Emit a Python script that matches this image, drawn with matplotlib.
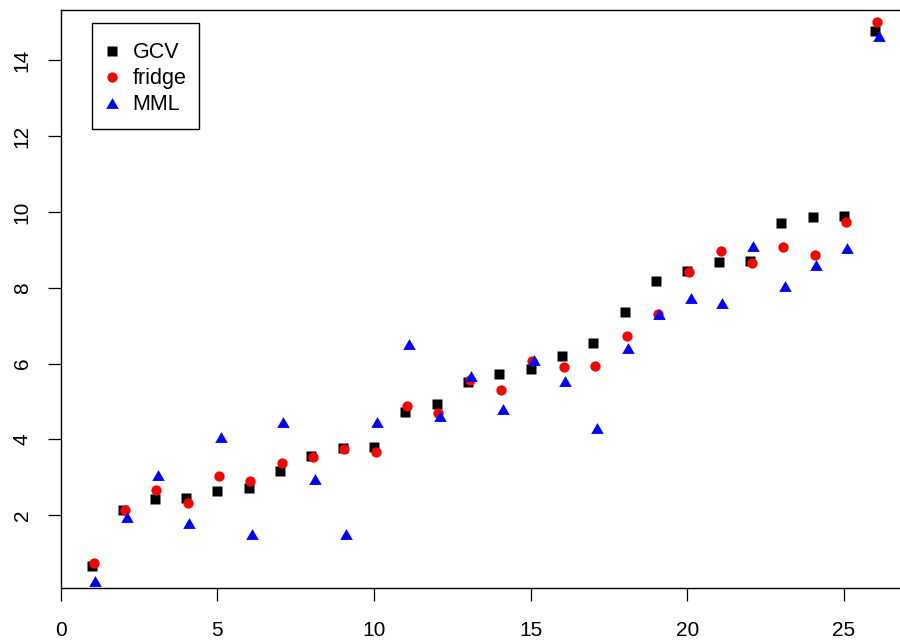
import matplotlib
matplotlib.use("Agg")
import matplotlib.pyplot as plt
import numpy as np
from matplotlib.path import Path
from matplotlib.patches import Rectangle
from matplotlib.transforms import Affine2D

plt.rcParams['font.family'] = ['Liberation Sans', 'DejaVu Sans']

index = list(range(1, 27))
gcv = [0.66, 2.14, 2.43, 2.45, 2.63, 2.71, 3.17, 3.55, 3.77, 3.81, 4.72, 4.93, 5.51,
       5.72, 5.85, 6.19, 6.54, 7.35, 8.18, 8.44, 8.67, 8.70, 9.70, 9.86, 9.89, 14.78]
fridge = [0.75, 2.14, 2.66, 2.32, 3.03, 2.91, 3.38, 3.54, 3.75, 3.67, 4.88, 4.70, 5.57,
          5.30, 6.08, 5.91, 5.94, 6.73, 7.31, 8.42, 8.97, 8.65, 9.08, 8.87, 9.74, 15.01]
mml = [0.27, 1.96, 3.06, 1.80, 4.07, 1.50, 4.45, 2.95, 1.50, 4.47, 6.51, 4.62, 5.68,
       4.80, 6.10, 5.55, 4.29, 6.42, 7.30, 7.74, 7.59, 9.11, 8.05, 8.59, 9.06, 14.64]
series_names = ["GCV", "fridge", "MML"]
xticks = [0, 5, 10, 15, 20, 25]
yticks = [2, 4, 6, 8, 10, 12, 14]

W, H = 900, 644
fig = plt.figure(figsize=(W / 100, H / 100), dpi=100)
left_px, bottom_px, top_px = 60.5, 588, 10
ax_w_px = 27.1 * 31.34
ax = fig.add_axes([left_px / W, (H - bottom_px) / H, ax_w_px / W, (bottom_px - top_px) / H])

# R-style equilateral triangle (pch 17), bbox-centred
tri = Path([(0, 0.75), (-0.866, -0.75), (0.866, -0.75), (0, 0.75)],
           [Path.MOVETO, Path.LINETO, Path.LINETO, Path.CLOSEPOLY])

styles = [
    dict(marker='s', ms=7.8, mfc='black', mec='none'),
    dict(marker='o', ms=7.4, mfc='red', mec='none'),
    dict(marker=tri, ms=9.0, mfc='blue', mec='none'),
]

x = np.array(index, dtype=float)
ax.plot(x, gcv, ls='none', **styles[0])
ax.plot(x + 0.06, fridge, ls='none', **styles[1])
ax.plot(x + 0.11, mml, ls='none', **styles[2])

ax.set_xlim(0, 27.1)
ax.set_ylim(0.08, 15.33)
ax.set_xticks(xticks)
ax.set_xticklabels([str(t) for t in xticks])
ax.set_yticks(yticks)
ax.set_yticklabels([str(t) for t in yticks], rotation=90, va='center')

ax.tick_params(axis='both', direction='out', length=9.7, width=0.9, labelsize=15, color='black')
ax.tick_params(axis='x', pad=14)
ax.tick_params(axis='y', pad=11)
for s in ax.spines.values():
    s.set_linewidth(1.0)
    s.set_color('black')

# Manual R-style legend, in pixel coordinates from the top-left corner
pix = Affine2D().scale(1 / W, -1 / H).translate(0, 1) + fig.transFigure
fig.add_artist(Rectangle((91.7, 22.7), 199 - 91.7, 129.3 - 22.7, transform=pix,
                         facecolor='white', edgecolor='black', linewidth=1.0, zorder=5))
row_y = [50.7, 77.0, 103.3]
for i, name in enumerate(series_names):
    fig.add_artist(matplotlib.lines.Line2D([112], [row_y[i]], transform=pix, ls='none',
                                           zorder=6, **styles[i]))
    fig.text(132.7 / W, 1 - (row_y[i] + 7.0) / H, name, fontsize=15.5,
             ha='left', va='baseline', zorder=6)

fig.savefig("out.png", dpi=100)
